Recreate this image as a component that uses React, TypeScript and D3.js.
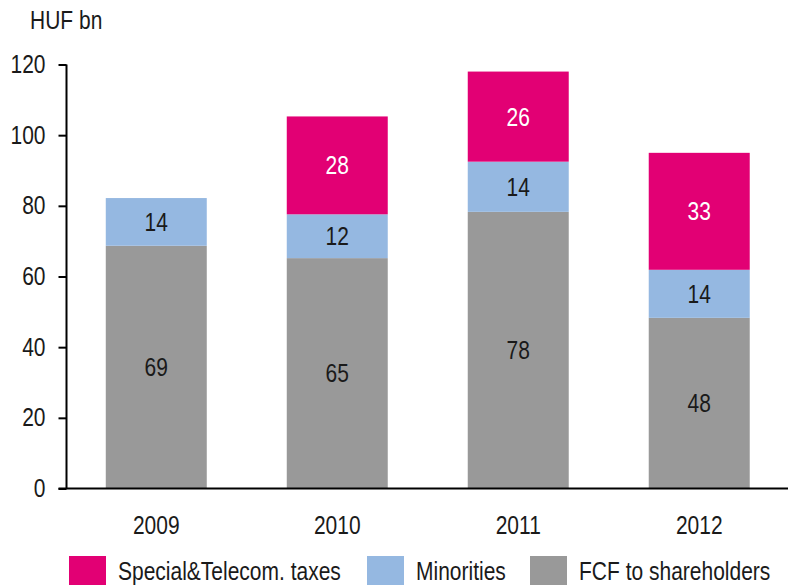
import { axisBottom, axisLeft, scaleBand, scaleLinear, select, stack } from "d3";
import { useEffect, useRef } from "react";

const years = ["2009", "2010", "2011", "2012"];
const fcf = [68.7, 65.2, 78.3, 48.3];
const minorities = [13.5, 12.4, 14.2, 13.6];
const taxes = [0, 27.7, 25.5, 33.1];
const seriesNames = ["FCF to shareholders", "Minorities", "Special&Telecom. taxes"];
const yTicks = [0, 20, 40, 60, 80, 100, 120];

const colors = ["#999999", "#95b8e1", "#e20074"];
const labelColors = ["#1a1a1a", "#1a1a1a", "#ffffff"];
const font = "'Liberation Sans', Arial, sans-serif";
// the original face is a condensed grotesk, so squeeze glyphs horizontally
const squeeze = 0.84;

const width = 788;
const height = 585;
const margin = { top: 64.5, right: 0, bottom: 96.5, left: 66.5 };

function Label({ x, y, anchor = "start", fill = "#1a1a1a", size = 25, dy, children }: any) {
  return (
    <text
      transform={`translate(${x}, ${y}) scale(${squeeze}, 1)`}
      dy={dy}
      textAnchor={anchor}
      fontFamily={font}
      fontSize={size}
      fill={fill}
    >
      {children}
    </text>
  );
}

function XAxis({ scale, y }: { scale: any; y: number }) {
  const ref = useRef<SVGGElement>(null);
  useEffect(() => {
    if (!ref.current) return;
    const g = select(ref.current);
    g.call(axisBottom(scale).tickSize(0).tickPadding(28));
    g.select(".domain").remove();
    g.selectAll("text")
      .attr("font-family", font)
      .attr("font-size", 25)
      .attr("fill", "#1a1a1a")
      .attr("transform", `scale(${squeeze}, 1)`);
  }, [scale]);
  return <g ref={ref} transform={`translate(0, ${y})`} />;
}

function YAxis({ scale, x }: { scale: any; x: number }) {
  const ref = useRef<SVGGElement>(null);
  useEffect(() => {
    if (!ref.current) return;
    const g = select(ref.current);
    g.call(axisLeft(scale).tickValues(yTicks).tickSize(8).tickPadding(13));
    g.select(".domain").remove();
    g.selectAll("line").attr("stroke", "#000").attr("stroke-width", 2);
    g.selectAll("text")
      .attr("x", -21 / squeeze)
      .attr("font-family", font)
      .attr("font-size", 25)
      .attr("fill", "#1a1a1a")
      .attr("transform", `scale(${squeeze}, 1)`);
  }, [scale]);
  return <g ref={ref} transform={`translate(${x}, 0)`} />;
}

export default function App() {
  const rows = years.map((year, i) => ({
    year,
    fcf: fcf[i],
    minorities: minorities[i],
    taxes: taxes[i],
  }));
  const stacked = stack<any>().keys(["fcf", "minorities", "taxes"])(rows);

  const x = scaleBand()
    .domain(years)
    .range([margin.left, 789])
    .paddingInner(0.442)
    .paddingOuter(0.217);
  const y = scaleLinear()
    .domain([0, 120])
    .range([height - margin.bottom, margin.top]);

  const legendItems = [
    { name: seriesNames[2], color: colors[2], x: 69 },
    { name: seriesNames[1], color: colors[1], x: 367 },
    { name: seriesNames[0], color: colors[0], x: 530 },
  ];

  return (
    <svg width={width} height={height} style={{ display: "block", position: "absolute", left: 0, top: 0 }}>
      <Label x={30} y={29}>HUF bn</Label>

      {stacked.map((layer, si) => (
        <g key={layer.key}>
          {layer.map((d) => {
            const h = y(d[0]) - y(d[1]);
            if (h <= 0) return null;
            const year = d.data.year;
            const value = d[1] - d[0];
            return (
              <g key={year}>
                <rect
                  x={x(year)}
                  y={y(d[1])}
                  width={x.bandwidth()}
                  height={h}
                  fill={colors[si]}
                />
                <Label
                  x={(x(year) as number) + x.bandwidth() / 2}
                  y={(y(d[0]) + y(d[1])) / 2}
                  dy="0.36em"
                  anchor="middle"
                  fill={labelColors[si]}
                >
                  {Math.round(value)}
                </Label>
              </g>
            );
          })}
        </g>
      ))}

      <YAxis scale={y} x={margin.left} />
      <XAxis scale={x} y={y(0)} />
      <line x1={margin.left} x2={margin.left} y1={y(120)} y2={y(0)} stroke="#000" strokeWidth={2} />
      <line x1={margin.left - 8} x2={width} y1={y(0)} y2={y(0)} stroke="#000" strokeWidth={2} />

      {legendItems.map((item) => (
        <g key={item.name} transform={`translate(${item.x}, 556)`}>
          <rect width={37} height={30} fill={item.color} />
          <Label x={49} y={23.5}>{item.name}</Label>
        </g>
      ))}
    </svg>
  );
}
